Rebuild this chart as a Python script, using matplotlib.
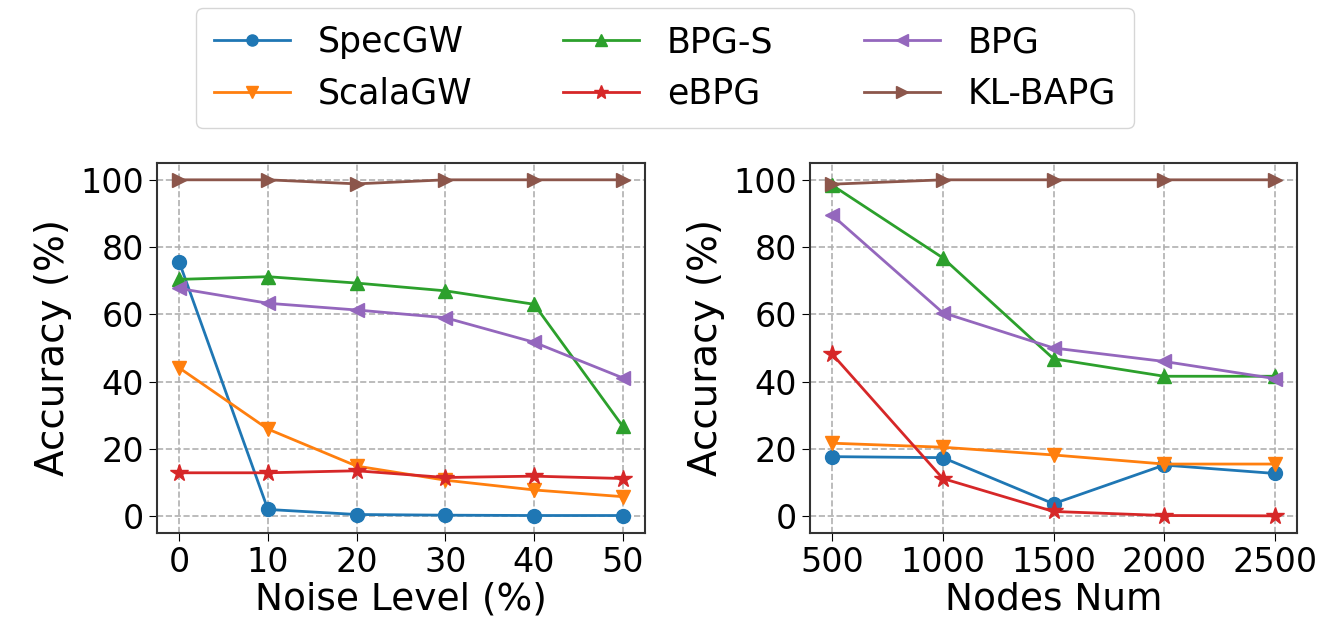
import matplotlib.pyplot as plt

# Данные
noise = [0, 10, 20, 30, 40, 50]
nodes = [500, 1000, 1500, 2000, 2500]

methods = ['SpecGW', 'ScalaGW', 'BPG-S', 'eBPG', 'BPG', 'KL-BAPG']
markers = ['o', 'v', '^', '*', '<', '>']
colors = ['tab:blue', 'tab:orange', 'tab:green', 'tab:red', 'tab:purple', 'tab:brown']

noise_acc = {
    'SpecGW': [75.6, 2.0, 0.5, 0.3, 0.2, 0.2],
    'ScalaGW': [44.1, 25.9, 14.9, 10.7, 7.8, 5.8],
    'BPG-S': [70.4, 71.2, 69.3, 67.0, 63.0, 26.7],
    'eBPG': [12.9, 12.9, 13.5, 11.5, 11.9, 11.2],
    'BPG': [67.7, 63.3, 61.3, 59.0, 51.7, 41.1],
    'KL-BAPG': [100.0, 100.0, 98.8, 100.0, 100.0, 100.0],
}

nodes_acc = {
    'SpecGW': [17.7, 17.4, 3.7, 15.2, 12.7],
    'ScalaGW': [21.7, 20.5, 18.2, 15.5, 15.5],
    'BPG-S': [98.4, 76.8, 46.8, 41.6, 41.6],
    'eBPG': [48.2, 11.2, 1.4, 0.2, 0.1],
    'BPG': [89.5, 60.5, 50.0, 46.0, 40.9],
    'KL-BAPG': [98.7, 100.0, 100.0, 100.0, 100.0],
}

fig = plt.figure(figsize=(13.23, 6.3), dpi=100)
ax1 = fig.add_axes([157 / 1323, 1 - 533 / 630, 488 / 1323, 370 / 630])
ax2 = fig.add_axes([810 / 1323, 1 - 533 / 630, 487 / 1323, 370 / 630])

for m, mk, c in zip(methods, markers, colors):
    ms = 13 if mk == '*' else 10
    ax1.plot(noise, noise_acc[m], marker=mk, color=c, lw=2, ms=ms, label=m)
    ax2.plot(nodes, nodes_acc[m], marker=mk, color=c, lw=2, ms=ms, label=m)

for ax in (ax1, ax2):
    ax.set_ylim(-5, 105)
    ax.set_yticks([0, 20, 40, 60, 80, 100])
    ax.grid(True, linestyle='--', color='#b0b0b0', lw=1.2)
    ax.tick_params(labelsize=24, length=6)
    ax.set_ylabel('Accuracy (%)', fontsize=28, labelpad=6)
    for s in ax.spines.values():
        s.set_color('#333333')
        s.set_linewidth(1.5)

ax1.set_xticks(noise)
ax1.set_xlim(-2.5, 52.5)
ax1.set_xlabel('Noise Level (%)', fontsize=27, labelpad=2)
ax2.set_xticks(nodes)
ax2.set_xlim(400, 2600)
ax2.set_xlabel('Nodes Num', fontsize=27, labelpad=2)

# Общая легенда сверху
handles, labels = ax1.get_legend_handles_labels()
fig.legend(handles, labels,
           loc='upper center', bbox_to_anchor=(665 / 1323, 1 - 8 / 630),
           borderaxespad=0,
           ncol=3, fontsize=25, frameon=True, handlelength=2.2,
           columnspacing=2.6, borderpad=0.5, labelspacing=0.5,
           markerscale=0.8)

plt.savefig('out.png', dpi=100)
